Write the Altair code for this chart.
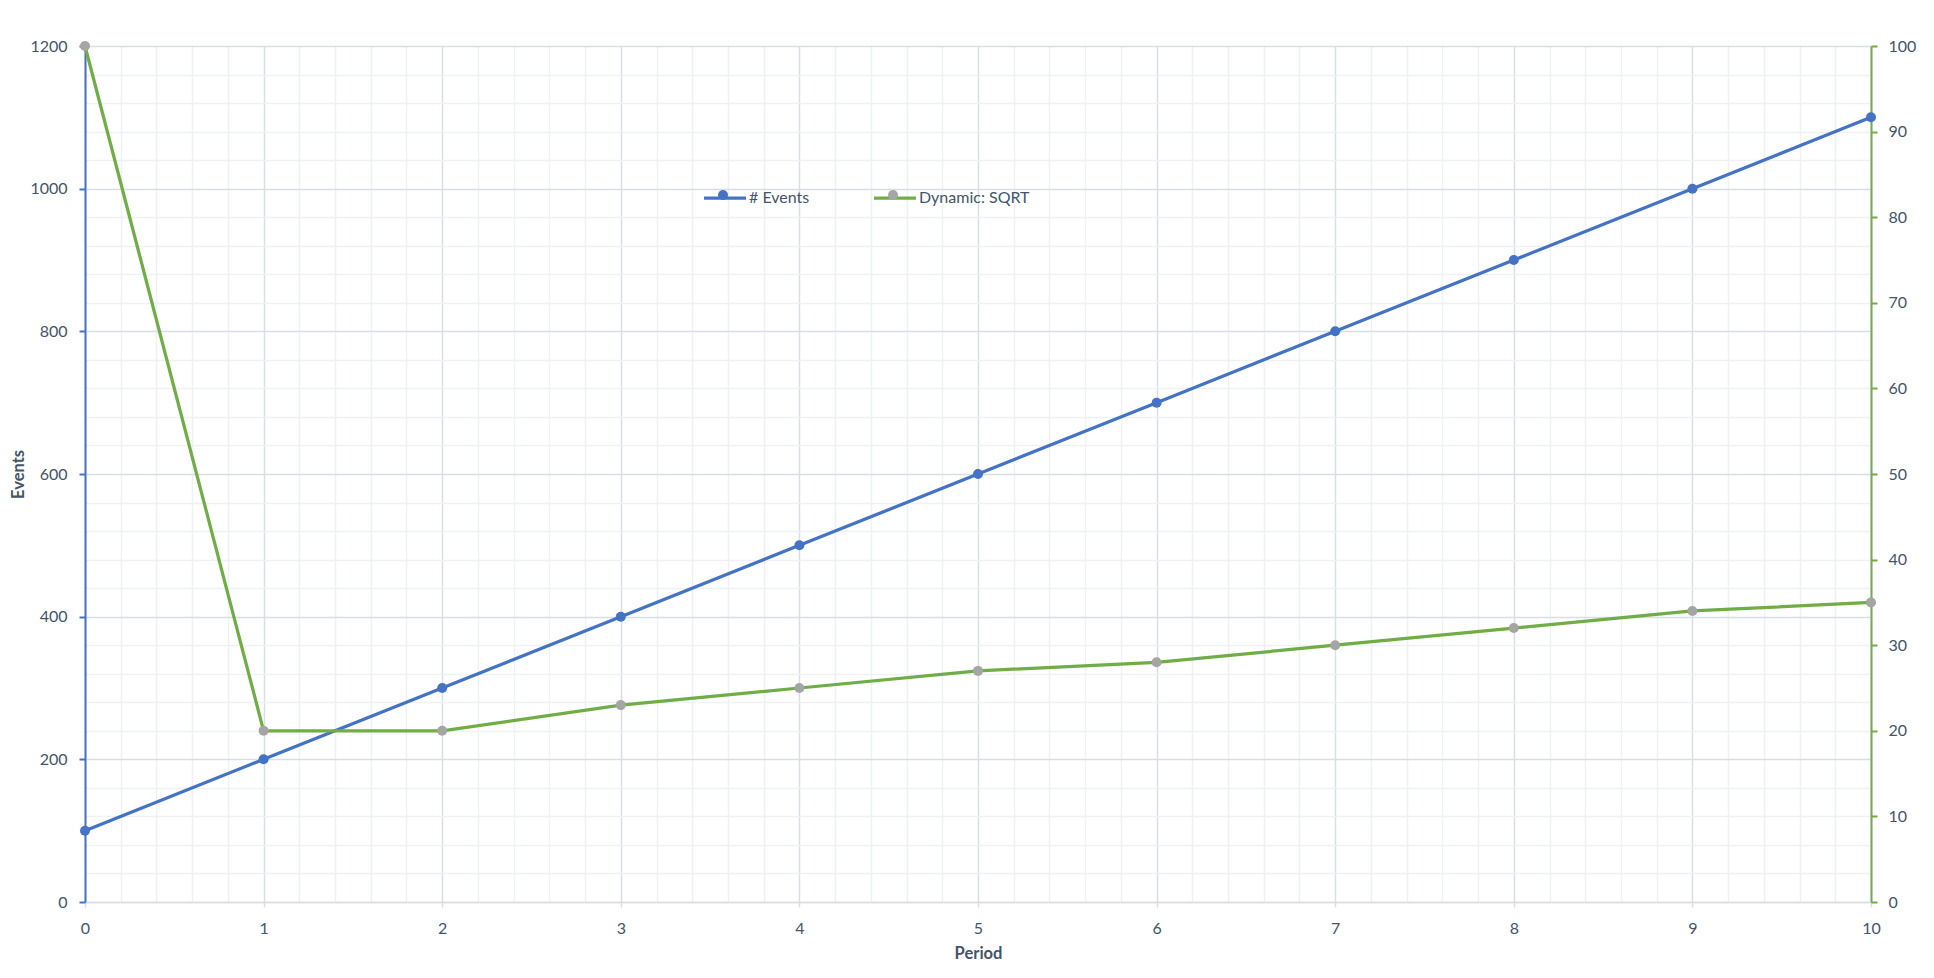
import altair as alt
import pandas as pd

# values
PERIODS = [0, 1, 2, 3, 4, 5, 6, 7, 8, 9, 10]
EVENTS = [100, 200, 300, 400, 500, 600, 700, 800, 900, 1000, 1100]
DYNAMIC_SQRT = [100, 20, 20, 23, 25, 27, 28, 30, 32, 34, 35]
SERIES = ["# Events", "Dynamic: SQRT"]

X_TICKS = [round(i * 0.2, 1) for i in range(51)]
Y_LEFT_TICKS = list(range(0, 1201, 40))
Y_RIGHT_TICKS = list(range(0, 101, 10))

BLUE = "#4472c4"
GREEN = "#70ad47"
GRAY_DOT = "#a5a5a5"
TEXT = "#44546a"
GRID_MAJOR = "#d9dde4"
GRID_MINOR = "#eff1f4"
FONT = "Lato"


def major(step):
    return f"datum.value % {step} === 0"


x_axis = alt.Axis(
    values=X_TICKS,
    title="Period",
    grid=True,
    gridColor=alt.condition(major(1), alt.value(GRID_MAJOR), alt.value(GRID_MINOR)),
    gridWidth=1.5,
    labelExpr=f"{major(1)} ? format(datum.value, 'd') : ''",
    labelFlush=False,
    labelOverlap=False,
    tickOpacity=alt.condition(major(1), alt.value(1), alt.value(0)),
    tickColor=GRID_MAJOR,
    tickSize=5,
    tickWidth=1.5,
    domainColor=GRID_MAJOR,
    domainWidth=1.5,
    labelPadding=13,
    labelFont=FONT,
    labelFontSize=16,
    labelColor=TEXT,
    titleFont=FONT,
    titleFontSize=16.5,
    titleFontWeight="bold",
    titleColor=TEXT,
    titlePadding=9,
)
x_enc = alt.X("Period:Q", scale=alt.Scale(domain=[0, 10], nice=False, zero=False), axis=x_axis)

line_legend = alt.Legend(
    orient="none", legendX=617, legendY=129, direction="horizontal", title=None,
    symbolType="stroke", symbolSize=1764, symbolStrokeWidth=3.25,
    labelFont=FONT, labelFontSize=16, labelColor=TEXT, labelOffset=1,
    columnPadding=57, padding=0,
)
dot_legend = alt.Legend(
    orient="none", legendX=633, legendY=144, direction="horizontal", title=None,
    symbolType="circle", symbolSize=100, symbolStrokeWidth=0,
    labelExpr="''", labelOffset=0, columnPadding=160, padding=0,
)

stroke = alt.Stroke("series:N", scale=alt.Scale(domain=SERIES, range=[BLUE, GREEN]), legend=line_legend)
fill = alt.Fill("series:N", scale=alt.Scale(range=[BLUE, GRAY_DOT]), legend=dot_legend)

events_df = pd.DataFrame({"Period": PERIODS, "value": EVENTS, "series": SERIES[0]})
dynamic_df = pd.DataFrame({"Period": PERIODS, "value": DYNAMIC_SQRT, "series": SERIES[1]})

y_left = alt.Y(
    "value:Q",
    scale=alt.Scale(domain=[0, 1200], nice=False),
    axis=alt.Axis(
        orient="left",
        values=Y_LEFT_TICKS,
        format="d",
        title="Events",
        grid=True,
        gridColor=alt.condition(major(200), alt.value(GRID_MAJOR), alt.value(GRID_MINOR)),
        gridWidth=1.5,
        labelExpr=f"{major(200)} ? datum.label : ''",
        labelOverlap=False,
        tickOpacity=alt.condition(major(200), alt.value(1), alt.value(0)),
        tickColor=BLUE,
        tickSize=6,
        tickWidth=2,
        domainColor=BLUE,
        domainWidth=2,
        labelPadding=12,
        labelFont=FONT,
        labelFontSize=16,
        labelColor=TEXT,
        titleFont=FONT,
        titleFontSize=16.5,
        titleFontWeight="bold",
        titleColor=TEXT,
        titlePadding=3,
    ),
)
y_right = alt.Y(
    "value:Q",
    scale=alt.Scale(domain=[0, 100], nice=False),
    axis=alt.Axis(
        orient="right",
        values=Y_RIGHT_TICKS,
        format="d",
        title=None,
        grid=False,
        tickColor=GREEN,
        tickSize=6,
        tickWidth=2,
        domainColor=GREEN,
        domainWidth=2,
        labelPadding=11,
        labelFont=FONT,
        labelFontSize=16,
        labelColor=TEXT,
    ),
)

events_line = alt.Chart(events_df).mark_line(strokeWidth=3.25).encode(x=x_enc, y=y_left, stroke=stroke)
events_pts = alt.Chart(events_df).mark_circle(size=100, opacity=1).encode(x=x_enc, y=y_left, fill=fill)
dynamic_line = alt.Chart(dynamic_df).mark_line(strokeWidth=3.25).encode(x=x_enc, y=y_right, stroke=stroke)
dynamic_pts = alt.Chart(dynamic_df).mark_circle(size=100, opacity=1).encode(x=x_enc, y=y_right, fill=fill)

chart = (
    alt.layer(alt.layer(events_line, events_pts), alt.layer(dynamic_line, dynamic_pts))
    .resolve_scale(y="independent")
    .properties(width=1786, height=856, padding={"left": 2, "top": 30, "right": 5, "bottom": 5})
    .configure_view(stroke=None)
)

chart.save("out.html", embed_options={"renderer": "svg", "actions": False})
